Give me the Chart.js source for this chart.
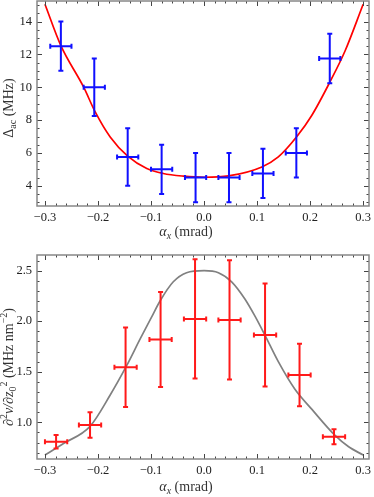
<!DOCTYPE html>
<html>
<head>
<meta charset="utf-8">
<script src="https://cdn.jsdelivr.net/npm/chart.js@4"></script>
<style>
    body { margin: 0; background: #fff; font-family: "Liberation Serif", serif; }
    canvas { display: block; }
</style>
</head>
<body>
<canvas id="topChart" width="374" height="248"></canvas>
<canvas id="bottomChart" width="374" height="249"></canvas>
<script>
// top panel: measured points
const topX = [-0.270, -0.207, -0.144, -0.080, -0.016, 0.047, 0.111, 0.174, 0.237];
const topY = [12.5, 10.0, 5.75, 5.0, 4.5, 4.5, 4.75, 6.0, 11.75];
const topXErr = [0.02, 0.02, 0.02, 0.02, 0.02, 0.02, 0.02, 0.02, 0.02];
const topYErr = [1.5, 1.75, 1.75, 1.5, 1.5, 1.5, 1.5, 1.5, 1.5];
// top panel: fitted curve
const fitX = [-0.300, -0.270, -0.227, -0.205, -0.177, -0.144, -0.108, -0.077, -0.039, 0.0, 0.046, 0.109, 0.140, 0.175, 0.203, 0.237, 0.266, 0.300];
const fitY = [15.05, 12.53, 10.0, 8.48, 6.97, 5.8, 5.05, 4.75, 4.59, 4.52, 4.6, 5.15, 5.76, 7.0, 8.28, 10.3, 12.22, 15.05];

// bottom panel: measured points
const botX = [-0.279, -0.215, -0.148, -0.082, -0.017, 0.048, 0.115, 0.180, 0.245];
const botY = [0.808, 0.973, 1.545, 1.818, 2.023, 2.013, 1.864, 1.468, 0.857];
const botXErr = [0.021, 0.021, 0.021, 0.021, 0.021, 0.021, 0.021, 0.021, 0.021];
const botYErr = [0.066, 0.127, 0.394, 0.47, 0.59, 0.59, 0.51, 0.31, 0.074];
// bottom panel: model curve
const modelX = [-0.300, -0.265, -0.215, -0.177, -0.146, -0.120, -0.100, -0.083, -0.058, -0.033, 0.0, 0.027, 0.052, 0.077, 0.096, 0.115, 0.140, 0.171, 0.203, 0.247, 0.272, 0.300];
const modelY = [0.676, 0.79, 0.96, 1.27, 1.56, 1.83, 2.03, 2.2, 2.39, 2.48, 2.5, 2.48, 2.39, 2.22, 2.05, 1.86, 1.6, 1.33, 1.13, 0.87, 0.76, 0.676];

const serif = "'Liberation Serif', 'Times New Roman', 'DejaVu Serif', serif";

function fmt(v, d) {
    if (Math.abs(v) < 1e-9) v = 0;
    return v.toFixed(d).replace("-", "\u2212");
}

function toPoints(xs, ys) {
    return xs.map((x, i) => ({ x: x, y: ys[i] }));
}

// draws a string made of pieces with their own font and vertical shift
function drawRich(ctx, parts, cx, cy, rotated) {
    ctx.save();
    ctx.translate(cx, cy);
    if (rotated) ctx.rotate(-Math.PI / 2);
    ctx.fillStyle = "#333";
    ctx.textBaseline = "alphabetic";
    ctx.textAlign = "left";
    let total = 0;
    parts.forEach(p => {
        ctx.font = p.font;
        p.w = ctx.measureText(p.t).width;
        total += p.w;
    });
    let x = -total / 2;
    parts.forEach(p => {
        ctx.font = p.font;
        ctx.fillText(p.t, x, 4 + (p.dy || 0));
        x += p.w;
    });
    ctx.restore();
}

const errorBars = {
    id: "errorBars",
    afterDatasetsDraw(chart) {
        const ctx = chart.ctx;
        const xs = chart.scales.x, ys = chart.scales.y;
        chart.data.datasets.forEach(ds => {
            if (!ds.errX) return;
            ctx.save();
            ctx.strokeStyle = ds.errColor;
            ctx.lineWidth = 2;
            const cap = 2.5;
            ds.data.forEach((p, i) => {
                const px = xs.getPixelForValue(p.x);
                const py = ys.getPixelForValue(p.y);
                const x1 = xs.getPixelForValue(p.x - ds.errX[i]);
                const x2 = xs.getPixelForValue(p.x + ds.errX[i]);
                const y1 = ys.getPixelForValue(p.y - ds.errY[i]);
                const y2 = ys.getPixelForValue(p.y + ds.errY[i]);
                ctx.beginPath();
                ctx.moveTo(x1, py); ctx.lineTo(x2, py);
                ctx.moveTo(px, y1); ctx.lineTo(px, y2);
                ctx.moveTo(x1, py - cap); ctx.lineTo(x1, py + cap);
                ctx.moveTo(x2, py - cap); ctx.lineTo(x2, py + cap);
                ctx.moveTo(px - cap, y1); ctx.lineTo(px + cap, y1);
                ctx.moveTo(px - cap, y2); ctx.lineTo(px + cap, y2);
                ctx.stroke();
            });
            ctx.restore();
        });
    }
};

// Mathematica style frame with inward ticks on all four sides, plus axis titles
const frame = {
    id: "frame",
    afterDraw(chart, args, opts) {
        const ctx = chart.ctx;
        const a = chart.chartArea;
        const xs = chart.scales.x, ys = chart.scales.y;
        ctx.save();
        ctx.strokeStyle = "#444";
        ctx.lineWidth = 1;
        ctx.beginPath();
        const minorX = [], minorY = [];
        for (let v = Math.ceil(xs.min / opts.xMinor - 1e-6) * opts.xMinor; v <= xs.max; v += opts.xMinor) minorX.push(v);
        for (let v = Math.ceil(ys.min / opts.yMinor - 1e-6) * opts.yMinor; v <= ys.max; v += opts.yMinor) minorY.push(v);
        const drawX = (v, len) => {
            const p = Math.round(xs.getPixelForValue(v)) + 0.5;
            ctx.moveTo(p, a.bottom); ctx.lineTo(p, a.bottom - len);
            ctx.moveTo(p, a.top); ctx.lineTo(p, a.top + len);
        };
        const drawY = (v, len) => {
            const p = Math.round(ys.getPixelForValue(v)) + 0.5;
            ctx.moveTo(a.left, p); ctx.lineTo(a.left + len, p);
            ctx.moveTo(a.right, p); ctx.lineTo(a.right - len, p);
        };
        minorX.forEach(v => drawX(v, 2.5));
        minorY.forEach(v => drawY(v, 2.5));
        xs.ticks.forEach(t => drawX(t.value, 5));
        ys.ticks.forEach(t => drawY(t.value, 5));
        ctx.stroke();
        ctx.strokeStyle = "#888";
        ctx.lineWidth = 1.5;
        ctx.strokeRect(a.left, a.top, a.right - a.left, a.bottom - a.top);
        ctx.restore();
        drawRich(ctx, opts.xTitle, opts.xTitlePos[0], opts.xTitlePos[1], false);
        drawRich(ctx, opts.yTitle, opts.yTitlePos[0], opts.yTitlePos[1], true);
    }
};

const big = "14px " + serif;
const bigIt = "italic 14px " + serif;
const small = "10px " + serif;
const smallIt = "italic 10px " + serif;

const xTitle = [
    { t: "\u03b1", font: bigIt },
    { t: "x", font: smallIt, dy: 3 },
    { t: " (mrad)", font: big }
];

function axisOptions(xMin, xMax, yMin, yMax, yStep, yDigits, xHeight) {
    return {
        x: {
            type: "linear", min: xMin, max: xMax,
            grid: { display: false, drawTicks: false }, border: { display: false },
            ticks: {
                stepSize: 0.1, includeBounds: false, padding: 4, color: "#222",
                font: { family: serif, size: 12.5 }, maxRotation: 0,
                callback: v => fmt(v, 1)
            },
            afterFit: s => { s.height = xHeight; s.paddingLeft = 0; s.paddingRight = 0; }
        },
        y: {
            type: "linear", min: yMin, max: yMax,
            grid: { display: false, drawTicks: false }, border: { display: false },
            ticks: {
                stepSize: yStep, includeBounds: false, padding: 5, color: "#222",
                font: { family: serif, size: 12.5 },
                callback: v => fmt(v, yDigits)
            },
            afterFit: s => { s.width = 37; s.paddingTop = 0; s.paddingBottom = 0; }
        }
    };
}

const topChart = new Chart(document.getElementById("topChart"), {
    type: "scatter",
    data: {
        datasets: [
            {
                data: toPoints(fitX, fitY), showLine: true, pointRadius: 0,
                borderColor: "#ff0000", borderWidth: 1.7, cubicInterpolationMode: "monotone"
            },
            {
                data: toPoints(topX, topY), pointRadius: 0, showLine: false,
                errX: topXErr, errY: topYErr, errColor: "#1010ff"
            }
        ]
    },
    options: {
        responsive: false, animation: false,
        layout: { padding: { top: 1, right: 5, left: 0, bottom: 0 } },
        plugins: {
            legend: { display: false }, tooltip: { enabled: false },
            frame: {
                xMinor: 0.02, yMinor: 0.5,
                xTitle: xTitle, xTitlePos: [186, 232],
                yTitle: [
                    { t: "\u0394", font: big },
                    { t: "ac", font: small, dy: 3 },
                    { t: " (MHz)", font: big }
                ],
                yTitlePos: [9, 108]
            }
        },
        scales: axisOptions(-0.315, 0.311, 2.77, 15.25, 2, 0, 42)
    },
    plugins: [errorBars, frame]
});

const bottomChart = new Chart(document.getElementById("bottomChart"), {
    type: "scatter",
    data: {
        datasets: [
            {
                data: toPoints(modelX, modelY), showLine: true, pointRadius: 0,
                borderColor: "#808080", borderWidth: 1.7, cubicInterpolationMode: "monotone"
            },
            {
                data: toPoints(botX, botY), pointRadius: 0, showLine: false,
                errX: botXErr, errY: botYErr, errColor: "#ff1a1a"
            }
        ]
    },
    options: {
        responsive: false, animation: false,
        layout: { padding: { top: 7, right: 5, left: 0, bottom: 0 } },
        plugins: {
            legend: { display: false }, tooltip: { enabled: false },
            frame: {
                xMinor: 0.02, yMinor: 0.1,
                xTitle: xTitle, xTitlePos: [186, 239],
                yTitle: [
                    { t: "\u2202", font: bigIt },
                    { t: "2", font: small, dy: -6 },
                    { t: "\u03bd", font: bigIt },
                    { t: "/\u2202", font: bigIt },
                    { t: "z", font: bigIt },
                    { t: "0", font: small, dy: 3 },
                    { t: "2", font: small, dy: -6 },
                    { t: " (MHz nm", font: big },
                    { t: "\u22122", font: small, dy: -6 },
                    { t: ")", font: big }
                ],
                yTitlePos: [9, 119]
            }
        },
        scales: axisOptions(-0.315, 0.311, 0.637, 2.655, 0.5, 1, 38)
    },
    plugins: [errorBars, frame]
});

if (document.fonts && document.fonts.ready) {
    document.fonts.ready.then(() => {
        topChart.update();
        bottomChart.update();
    });
}
</script>
</body>
</html>
